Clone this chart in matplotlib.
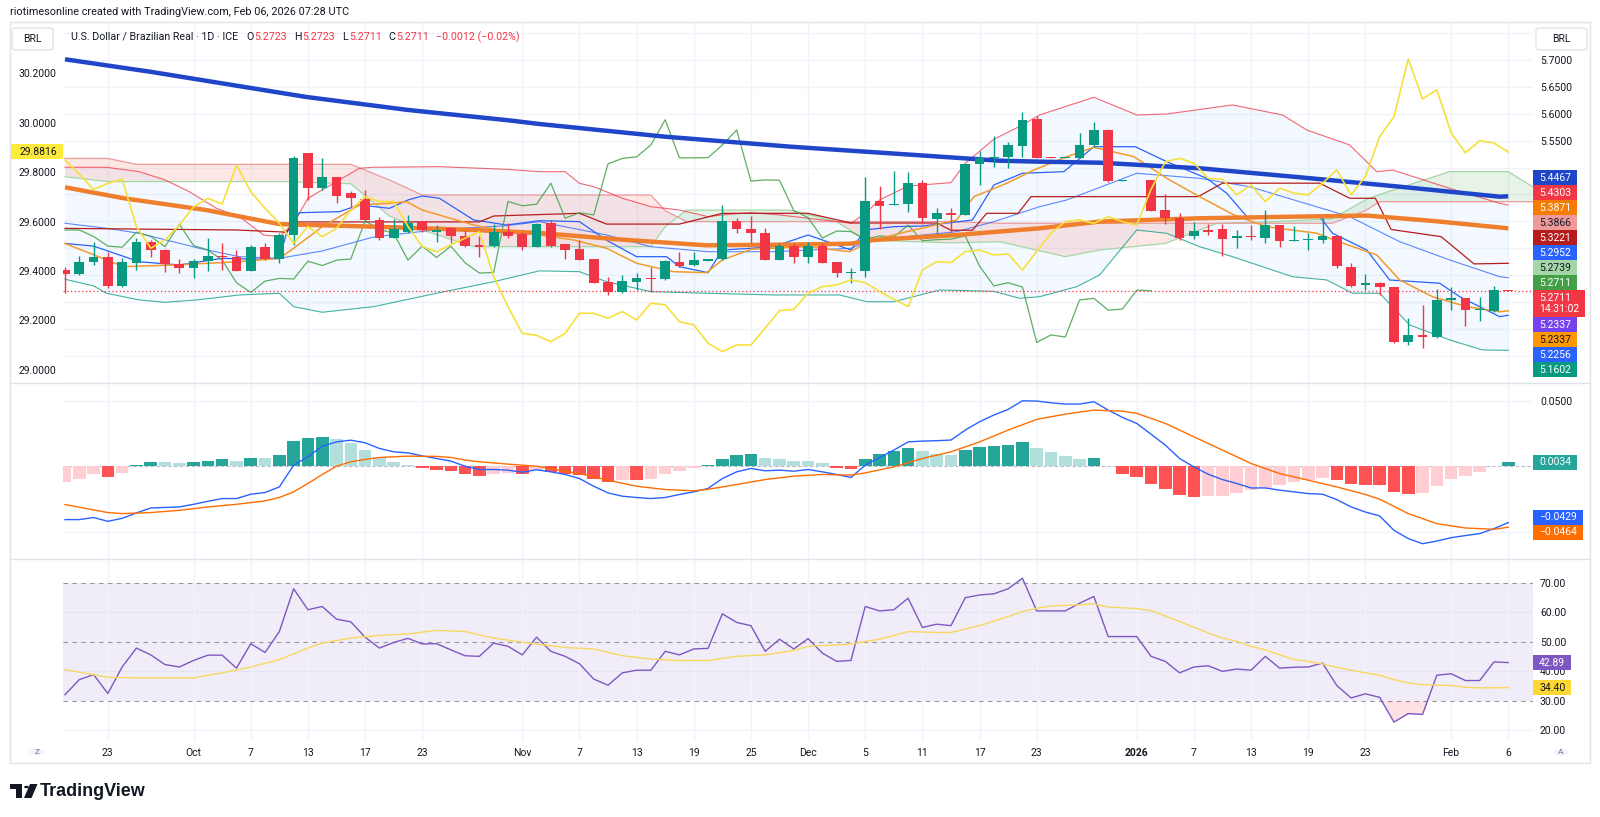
import numpy as np
import pandas as pd
import matplotlib
matplotlib.use("Agg")
import matplotlib.pyplot as plt
from matplotlib.patches import FancyBboxPatch, Rectangle, Circle, Polygon

plt.rcParams['font.family'] = ['Roboto', 'DejaVu Sans']

# ---------------- data (USD/BRL 1D, ICE) ----------------
dates = pd.bdate_range("2025-09-18", "2026-02-06")

opens = [5.310, 5.302, 5.325, 5.333, 5.279, 5.323, 5.362, 5.347, 5.320, 5.314,
         5.327, 5.336, 5.334, 5.308, 5.353, 5.331, 5.375, 5.528, 5.462, 5.482,
         5.452, 5.442, 5.403, 5.370, 5.380, 5.401, 5.380, 5.388, 5.372, 5.356,
         5.354, 5.380, 5.376, 5.353, 5.397, 5.358, 5.349, 5.330, 5.288, 5.268,
         5.288, 5.295, 5.293, 5.325, 5.319, 5.327, 5.330, 5.401, 5.385, 5.379,
         5.328, 5.354, 5.333, 5.354, 5.324, 5.304, 5.307, 5.437, 5.431, 5.432,
         5.471, 5.404, 5.416, 5.412, 5.507, 5.517, 5.520, 5.540, 5.590, 5.519,
         5.518, 5.517, 5.542, 5.570, 5.475, 5.476, 5.476, 5.421, 5.406, 5.372,
         5.384, 5.386, 5.370, 5.373, 5.370, 5.393, 5.364, 5.365, 5.365, 5.373,
         5.316, 5.281, 5.286, 5.278, 5.175, 5.189, 5.186, 5.253, 5.257, 5.235,
         5.234, 5.2723]
highs = [5.316, 5.336, 5.362, 5.344, 5.332, 5.369, 5.365, 5.348, 5.331, 5.331,
         5.370, 5.359, 5.347, 5.356, 5.360, 5.378, 5.522, 5.528, 5.517, 5.483,
         5.457, 5.458, 5.408, 5.404, 5.412, 5.401, 5.393, 5.390, 5.384, 5.372,
         5.395, 5.397, 5.381, 5.397, 5.403, 5.358, 5.365, 5.330, 5.297, 5.300,
         5.304, 5.316, 5.328, 5.344, 5.344, 5.330, 5.431, 5.406, 5.410, 5.387,
         5.359, 5.359, 5.362, 5.360, 5.325, 5.313, 5.482, 5.466, 5.494, 5.492,
         5.476, 5.424, 5.424, 5.507, 5.530, 5.559, 5.548, 5.604, 5.595, 5.520,
         5.519, 5.565, 5.585, 5.571, 5.477, 5.477, 5.477, 5.451, 5.415, 5.398,
         5.395, 5.395, 5.384, 5.393, 5.421, 5.394, 5.392, 5.378, 5.406, 5.374,
         5.322, 5.302, 5.287, 5.278, 5.220, 5.245, 5.274, 5.278, 5.258, 5.260,
         5.280, 5.2723]
lows = [5.267, 5.300, 5.319, 5.277, 5.278, 5.310, 5.334, 5.305, 5.304, 5.294,
        5.307, 5.310, 5.308, 5.308, 5.329, 5.323, 5.356, 5.440, 5.458, 5.434,
        5.421, 5.401, 5.365, 5.369, 5.378, 5.380, 5.362, 5.359, 5.353, 5.334,
        5.353, 5.370, 5.346, 5.352, 5.353, 5.330, 5.328, 5.286, 5.263, 5.266,
        5.273, 5.269, 5.291, 5.316, 5.318, 5.326, 5.329, 5.379, 5.359, 5.328,
        5.328, 5.322, 5.323, 5.323, 5.297, 5.286, 5.296, 5.385, 5.431, 5.418,
        5.395, 5.379, 5.381, 5.411, 5.468, 5.502, 5.499, 5.520, 5.517, 5.517,
        5.517, 5.517, 5.539, 5.474, 5.475, 5.476, 5.419, 5.395, 5.365, 5.367,
        5.375, 5.336, 5.350, 5.365, 5.359, 5.353, 5.363, 5.346, 5.360, 5.313,
        5.278, 5.273, 5.263, 5.174, 5.170, 5.164, 5.183, 5.235, 5.206, 5.215,
        5.232, 5.2711]
closes = [5.302, 5.324, 5.333, 5.279, 5.324, 5.362, 5.347, 5.320, 5.314, 5.327,
          5.336, 5.334, 5.308, 5.353, 5.330, 5.375, 5.517, 5.462, 5.482, 5.447,
          5.443, 5.403, 5.369, 5.386, 5.397, 5.384, 5.384, 5.372, 5.354, 5.352,
          5.380, 5.372, 5.353, 5.395, 5.355, 5.347, 5.328, 5.286, 5.268, 5.289,
          5.294, 5.293, 5.326, 5.318, 5.328, 5.330, 5.401, 5.385, 5.378, 5.328,
          5.354, 5.333, 5.354, 5.323, 5.304, 5.305, 5.437, 5.429, 5.432, 5.471,
          5.406, 5.416, 5.412, 5.507, 5.517, 5.520, 5.542, 5.589, 5.518, 5.518,
          5.5185, 5.542, 5.570, 5.475, 5.477, 5.4765, 5.420, 5.407, 5.369, 5.382,
          5.381, 5.367, 5.373, 5.371, 5.393, 5.364, 5.366, 5.367, 5.373, 5.317,
          5.280, 5.286, 5.278, 5.175, 5.189, 5.185, 5.254, 5.257, 5.235, 5.237,
          5.2723, 5.2711]

# second symbol on the left scale (yellow line)
yellow = [29.849, 29.792, 29.73, 29.755, 29.771, 29.580, 29.492, 29.526, 29.586, 29.660,
          29.694, 29.671, 29.829, 29.721, 29.654, 29.593, 29.512, 29.580, 29.539, 29.573,
          29.647, 29.701, 29.681, 29.681, 29.580, 29.499, 29.478, 29.506, 29.533, 29.559,
          29.377, 29.256, 29.148, 29.140, 29.114, 29.148, 29.229, 29.229, 29.209, 29.236,
          29.202, 29.270, 29.263, 29.195, 29.182, 29.108, 29.074, 29.101, 29.101, 29.169,
          29.240, 29.245, 29.310, 29.337, 29.344, 29.364, 29.353, 29.317, 29.286, 29.256,
          29.404, 29.438, 29.434, 29.478, 29.485, 29.465, 29.469, 29.404, 29.480, 29.553,
          29.600, 29.607, 29.593, 29.620, 29.600, 29.586, 29.730, 29.842, 29.856, 29.836,
          29.775, 29.771, 29.708, 29.748, 29.681, 29.735, 29.715, 29.708, 29.755, 29.809,
          29.708, 29.782, 29.944, 30.024, 30.258, 30.096, 30.133, 29.959, 29.878, 29.927,
          29.918, 29.8816]

# slow moving average (thick blue)
ma_slow_x = [0, 6.0, 16.9, 24.0, 31.1, 33.2, 42.0, 50.8, 59.5, 65.4, 68.2, 72.4, 79.4, 86.4, 93.4, 100.4, 101]
ma_slow_y = [5.7013, 5.678, 5.6312, 5.6071, 5.5877, 5.581, 5.5574, 5.5388, 5.5234, 5.5128, 5.511, 5.5091,
             5.4987, 5.482, 5.4645, 5.4459, 5.4467]
# medium moving average (thick orange)
ma_mid_x = [0, 4.1, 9.9, 15.0, 21.6, 28.6, 33.2, 39.0, 44.9, 50.7, 55.0, 56.6, 62.4, 68.2, 72.4, 79.4, 86.4, 91.1, 95.7, 101]
ma_mid_y = [5.4634, 5.443, 5.421, 5.395, 5.3902, 5.384, 5.3785, 5.366, 5.3555, 5.3568, 5.3586, 5.3654, 5.3747,
            5.3871, 5.3996, 5.4058, 5.4089, 5.4108, 5.4009, 5.3871]
# fast average (thin orange)
ma_fast_x = [0, 4.1, 7.6, 12.2, 15, 16, 18, 20.6, 22.7, 23.9, 25, 28.6, 30.9, 33.2, 35.6, 37.9, 40, 42.6, 44.9,
             46, 48, 51.9, 54.9, 56.6, 58.9, 62.4, 63.6, 65.9, 67.8, 70.1, 72, 74.8, 77.1, 79.4, 81.8, 84.1,
             87.6, 88.8, 91.8, 93.4, 95.7, 98.1, 100.4, 101]
ma_fast_y = [5.359, 5.3158, 5.319, 5.3251, 5.3314, 5.35, 5.39, 5.4305, 5.4336, 5.4366, 5.421, 5.3933, 5.3809,
             5.3747, 5.3654, 5.35, 5.3221, 5.3065, 5.3047, 5.3283, 5.3481, 5.353, 5.3437, 5.3654, 5.3809,
             5.4026, 5.4459, 5.4708, 5.4955, 5.5203, 5.5377, 5.5203, 5.48, 5.4459, 5.412, 5.39, 5.378,
             5.3654, 5.3375, 5.2911, 5.26, 5.2415, 5.232, 5.2337]

# Bollinger bands
bb_up_x = [0, 2.9, 5.2, 7, 8.7, 10.6, 12.2, 13.9, 15, 16, 17, 18, 19.2, 20.6, 21.6, 26.2, 30.9, 33.2, 35, 36,
           37, 39, 41, 43, 45, 46, 48, 50, 52, 55, 56, 57, 59, 62, 63, 65, 67, 68.2, 72, 75, 77.1, 81.7, 85.2,
           86.9, 89.9, 91.8, 92.9, 96.9, 100.4, 101]
bb_up_y = [5.5006, 5.5006, 5.4924, 5.477, 5.4552, 5.4243, 5.4088, 5.3747, 5.3716, 5.3965, 5.443, 5.4584,
           5.477, 5.4987, 5.5006, 5.5017, 5.4968, 5.4924, 5.4924, 5.4708, 5.4645, 5.443, 5.4273, 5.4212,
           5.4088, 5.412, 5.4162, 5.412, 5.4058, 5.3965, 5.415, 5.4398, 5.4658, 5.472, 5.508, 5.5526,
           5.5792, 5.5978, 5.6307, 5.5978, 5.5996, 5.6164, 5.5978, 5.5699, 5.542, 5.4924, 5.4955, 5.4615,
           5.4336, 5.4303]
bb_lo_x = [0, 2, 2.9, 5.2, 7, 9.2, 12.2, 15, 16, 18, 21.6, 26.2, 30, 33.2, 36, 37.9, 41, 45, 49.6, 54.2,
           56.1, 58, 61.2, 65, 66.8, 68.2, 70.8, 72.4, 75, 77.1, 79.4, 81.7, 85.9, 88.3, 90.1, 92, 94.1,
           96.9, 99.2, 101]
bb_lo_y = [5.2924, 5.28, 5.2664, 5.2539, 5.2496, 5.2539, 5.2632, 5.2664, 5.2415, 5.2311, 5.2415, 5.2675,
           5.2879, 5.308, 5.3065, 5.2879, 5.2694, 5.2664, 5.2632, 5.2632, 5.2507, 5.2507, 5.2725, 5.27,
           5.257, 5.26, 5.2786, 5.3004, 5.384, 5.3778, 5.353, 5.3344, 5.2972, 5.2911, 5.2664, 5.2664,
           5.2074, 5.1796, 5.161, 5.1602]
bb_mid_x = [0, 2.9, 5.2, 9.4, 12.2, 15, 18, 21.6, 26.2, 30.9, 33.2, 37.9, 41, 45, 49.6, 55, 56.5, 62.4, 65,
            68.2, 70.1, 75, 79.4, 82.9, 86.4, 89.9, 93.4, 96.9, 100.4, 101]
bb_mid_y = [5.3965, 5.3872, 5.3779, 5.35, 5.3344, 5.3314, 5.345, 5.371, 5.385, 5.392, 5.3995, 5.3747, 5.353,
            5.3437, 5.3437, 5.35, 5.3654, 5.3809, 5.3995, 5.4273, 5.4398, 5.4894, 5.48, 5.4645, 5.4366,
            5.4088, 5.3623, 5.3283, 5.2972, 5.2952]

# Ichimoku
tenkan_x = [0, 2, 5.2, 8, 11, 13.2, 15, 15.5, 16.4, 19.2, 20.6, 22.7, 24, 25, 26.2, 28.6, 30.9, 33.2, 36,
            37.9, 40, 42.1, 43, 45, 46, 48, 49.6, 52, 53.7, 55, 56, 58, 60, 63.5, 65, 67, 69.9, 72, 74.9,
            77.1, 79.9, 81.3, 82.7, 87.8, 88.7, 91.1, 92.7, 96.2, 97.6, 100.4, 101]
tenkan_y = [5.359, 5.354, 5.325, 5.319, 5.3314, 5.3296, 5.331, 5.378, 5.4162, 5.418, 5.4305, 5.4243, 5.4398,
            5.4472, 5.443, 5.4026, 5.3933, 5.4013, 5.3995, 5.365, 5.3344, 5.3344, 5.3158, 5.3047, 5.3468,
            5.35, 5.353, 5.3747, 5.359, 5.3468, 5.384, 5.3902, 5.3914, 5.4026, 5.4677, 5.4894, 5.4924,
            5.5388, 5.5388, 5.511, 5.48, 5.4522, 5.4088, 5.4088, 5.378, 5.3468, 5.2911, 5.285, 5.26,
            5.2229, 5.2256]
kijun_x = [0, 12, 15.5, 16, 29, 30, 36, 37.9, 43, 46, 52, 55, 61, 62, 63.5, 64.5, 66.7, 67.6, 79.3, 81,
           87.8, 89.9, 91.7, 92.8, 96.3, 98.6, 101]
kijun_y = [5.387, 5.384, 5.38, 5.399, 5.399, 5.41, 5.415, 5.395, 5.395, 5.415, 5.415, 5.397, 5.397, 5.3835,
           5.3835, 5.415, 5.415, 5.446, 5.446, 5.471, 5.471, 5.443, 5.443, 5.385, 5.3716, 5.321, 5.3221]
cloud_x = [0, 3, 5, 15, 20, 22.7, 25, 28.6, 33, 41, 42, 43.5, 50.7, 54, 56, 62, 65.4, 70, 72.4, 77, 80.6,
           85, 88.7, 91, 92, 96.9, 101, 102.7]
span_a = [5.483, 5.474, 5.474, 5.474, 5.47, 5.41, 5.384, 5.353, 5.353, 5.353, 5.39, 5.421, 5.421, 5.3995,
          5.3654, 5.36, 5.3623, 5.3344, 5.3468, 5.359, 5.3965, 5.40, 5.405, 5.44, 5.45, 5.4925, 5.4925, 5.4645]
span_b = [5.517, 5.517, 5.506, 5.506, 5.506, 5.477, 5.449, 5.449, 5.449, 5.449, 5.42, 5.3995, 5.3995, 5.3995,
          5.3995, 5.3995, 5.3965, 5.3965, 5.3965, 5.3965, 5.3965, 5.3965, 5.3965, 5.42, 5.4366, 5.4366,
          5.4366, 5.4366]
lag_shift = 25

# last-value labels
price_tags = [5.4467, 5.4303, 5.3871, 5.3866, 5.3221, 5.2952, 5.2739, 5.2711, 5.2711, 5.2337, 5.2337, 5.2256, 5.1602]
left_tag = 29.8816
countdown = "14:31:02"

# MACD
macd_hist = [-0.0118, -0.0092, -0.0061, -0.008, -0.0049, 0.001, 0.0031, 0.0031, 0.0023, 0.0036,
             0.0043, 0.0056, 0.0043, 0.0064, 0.0064, 0.0084, 0.0194, 0.0214, 0.0227, 0.0207,
             0.0181, 0.0125, 0.0069, 0.0031, 0.0015, -0.0013, -0.0026, -0.0038, -0.0059, -0.0072,
             -0.0059, -0.0049, -0.0061, -0.003, -0.0041, -0.0054, -0.0066, -0.0095, -0.0118, -0.0105,
             -0.0105, -0.0095, -0.0056, -0.0038, -0.001, 0.001, 0.0061, 0.0089, 0.0099, 0.0064,
             0.0056, 0.0041, 0.0041, 0.0023, -0.0013, -0.0023, 0.0056, 0.0094, 0.012, 0.0143,
             0.012, 0.0099, 0.0084, 0.0125, 0.015, 0.0158, 0.0163, 0.0186, 0.0145, 0.0112,
             0.0077, 0.006, 0.0064, 0.0, -0.0054, -0.008, -0.0133, -0.0174, -0.022, -0.0233,
             -0.0227, -0.0222, -0.0202, -0.0181, -0.0161, -0.0138, -0.0122, -0.0105, -0.0087, -0.0105,
             -0.0133, -0.0141, -0.0141, -0.0194, -0.021, -0.0202, -0.0148, -0.0092, -0.0072, -0.0043,
             0.0003, 0.0034]
macd_line = [-0.0406, -0.0406, -0.039, -0.0419, -0.0396, -0.0355, -0.0317, -0.0313, -0.0309, -0.0289,
             -0.0266, -0.0245, -0.0245, -0.0212, -0.0199, -0.0156, 0.001, 0.0074, 0.0155, 0.0188,
             0.0201, 0.0181, 0.0138, 0.0112, 0.0104, 0.0081, 0.0061, 0.0041, 0.0002, -0.0023,
             -0.0023, -0.0028, -0.0044, -0.0025, -0.0041, -0.0061, -0.0092, -0.0151, -0.0202, -0.0227,
             -0.0237, -0.0245, -0.0237, -0.0214, -0.0194, -0.0168, -0.0092, -0.0041, -0.0015, -0.0033,
             -0.0028, -0.0036, -0.0023, -0.0041, -0.0061, -0.0084, 0.001, 0.0069, 0.0125, 0.0188,
             0.0194, 0.0197, 0.0202, 0.0278, 0.0342, 0.0393, 0.0436, 0.0502, 0.05, 0.0487,
             0.0477, 0.0477, 0.0495, 0.0431, 0.0375, 0.0329, 0.0247, 0.0163, 0.0061, -0.0003,
             -0.0059, -0.01, -0.013, -0.0164, -0.0164, -0.0181, -0.0194, -0.0207, -0.0212, -0.0253,
             -0.0309, -0.0348, -0.0378, -0.0488, -0.0551, -0.059, -0.057, -0.0544, -0.0528, -0.0513,
             -0.0475, -0.0429]
signal_x = [0, 3, 4, 6, 8, 10, 12, 14, 15, 16, 17, 18, 19, 20, 21, 22, 24, 26, 27, 28, 29, 31, 33, 36, 38,
            40, 42, 44, 45, 47, 49, 51, 53, 55, 56, 58, 60, 62, 64, 66, 68, 70, 72, 74, 75, 77, 79, 81, 83,
            85, 87, 89, 91, 92, 94, 96, 98, 100, 101]
signal_y = [-0.0291, -0.0352, -0.036, -0.0352, -0.0335, -0.0309, -0.0289, -0.0263, -0.0237, -0.0194, -0.013,
            -0.0061, 0.0002, 0.0036, 0.0054, 0.0069, 0.0079, 0.0077, 0.0069, 0.0049, 0.0036, 0.0018, 0.0002,
            -0.0054, -0.0105, -0.0151, -0.0176, -0.0186, -0.0174, -0.0138, -0.01, -0.0074, -0.0061, -0.0066,
            -0.0049, -0.0003, 0.0061, 0.0112, 0.0188, 0.0278, 0.036, 0.04, 0.0431, 0.0423, 0.0406, 0.0329,
            0.0227, 0.0125, 0.0023, -0.0054, -0.0105, -0.0156, -0.0214, -0.025, -0.036, -0.0437, -0.047,
            -0.048, -0.0464]

# RSI
rsi = [32.0, 37.1, 38.8, 32.4, 41.4, 47.8, 45.5, 42.2, 41.4, 43.6,
       45.4, 45.4, 41.0, 49.3, 46.3, 53.4, 67.9, 60.8, 61.9, 57.6,
       56.7, 51.5, 47.8, 49.7, 51.1, 49.2, 49.3, 47.2, 45.2, 45.0,
       49.5, 48.4, 45.5, 51.5, 46.7, 45.0, 42.5, 37.3, 35.2, 39.4,
       40.3, 40.3, 46.7, 45.5, 47.5, 47.7, 59.4, 56.5, 55.4, 46.7,
       50.8, 47.5, 51.0, 46.1, 43.3, 43.6, 61.9, 60.4, 60.8, 64.7,
       54.8, 55.9, 55.4, 64.9, 65.8, 66.2, 67.9, 71.5, 60.4, 60.4,
       60.4, 63.0, 65.3, 51.7, 51.7, 51.7, 45.0, 43.3, 39.4, 41.4,
       41.8, 39.9, 40.7, 40.3, 45.0, 41.0, 41.3, 41.4, 42.7, 35.1,
       30.9, 32.3, 31.1, 22.7, 25.6, 25.3, 38.6, 39.1, 36.8, 36.8,
       43.1, 42.89]
rsi_ma_x = [0, 3, 5, 9, 11, 13, 15, 17, 18, 20, 22, 24, 26, 28, 30, 32, 33, 35, 37, 39, 41, 43, 45, 47, 49,
            51, 52, 54, 55, 57, 59, 61, 62, 64, 66, 67, 68, 69, 71, 72, 73, 75, 76, 78, 80, 81, 82, 83, 84,
            85, 86, 87, 88, 89, 90, 91, 92, 93, 94, 95, 96, 97, 98, 99, 101]
rsi_ma_y = [40.5, 37.9, 37.7, 37.7, 39.4, 41.4, 43.9, 47.8, 49.5, 51.2, 52.1, 52.6, 53.8, 53.4, 51.2, 49.8,
            49.2, 48.0, 47.5, 45.2, 44.1, 43.6, 43.6, 45.0, 45.5, 47.0, 48.4, 48.9, 49.2, 50.8, 53.4, 53.1,
            53.1, 55.4, 58.5, 60.2, 61.3, 62.1, 62.5, 62.8, 61.7, 61.2, 60.5, 56.8, 52.9, 51.2, 50.1, 48.4,
            47.2, 45.5, 43.9, 43.3, 42.4, 41.3, 40.3, 39.4, 38.6, 37.1, 36.0, 35.4, 35.2, 35.1, 34.5, 34.3,
            34.4]

tick_dates = ["2025-09-23", "2025-10-01", "2025-10-07", "2025-10-13", "2025-10-17", "2025-10-23",
              "2025-11-03", "2025-11-07", "2025-11-13", "2025-11-19", "2025-11-25", "2025-12-01",
              "2025-12-05", "2025-12-11", "2025-12-17", "2025-12-23", "2026-01-01", "2026-01-07",
              "2026-01-13", "2026-01-19", "2026-01-23", "2026-02-02", "2026-02-06"]
tick_labels = ["23", "Oct", "7", "13", "17", "23", "Nov", "7", "13", "19", "25", "Dec", "5", "11", "17",
               "23", "2026", "7", "13", "19", "23", "Feb", "6"]

header = "riotimesonline created with TradingView.com, Feb 06, 2026 07:28 UTC"
title = "U.S. Dollar / Brazilian Real · 1D · ICE"

# ---------------- figure ----------------
W, H = 1600, 817
fig = plt.figure(figsize=(W / 100, H / 100), dpi=100)
TXT = '#131722'
GRID = '#f0f3fa'
UP, DN = '#089981', '#f23645'


def fx(x):
    return x / W


def fy(y):
    return 1 - y / H


PL, PR = 63, 1533
XL, XR = -0.14, 102.73


def pane(top, bottom):
    a = fig.add_axes([fx(PL), fy(bottom), (PR - PL) / W, (bottom - top) / H])
    for s in a.spines.values():
        s.set_visible(False)
    a.set_xlim(XL, XR)
    return a


ax = pane(22, 383)
axl = ax.twinx()          # left scale for the yellow series (twinx moves ax ticks, so fix after)
axm = pane(383, 559)
axr = pane(559, 741)

n = len(closes)
x = np.arange(n)
o, hi, lo, c = (np.array(v) for v in (opens, highs, lows, closes))
tick_idx = [dates.get_loc(pd.Timestamp(d)) for d in tick_dates]

for a in (ax, axm, axr):
    a.set_xticks(tick_idx)
    a.grid(axis='x', color=GRID, lw=1)
    a.tick_params(axis='x', length=0)
    a.set_axisbelow(True)
ax.set_xticklabels([])
axm.set_xticklabels([])
axr.set_xticklabels(tick_labels)
axr.tick_params(axis='x', labelsize=7.5, colors=TXT, pad=5)
axr.get_xticklabels()[tick_labels.index("2026")].set_fontweight('bold')

# ---- main pane ----
ax.set_ylim(5.0996, 5.7706)
main_ticks = np.round(np.arange(5.10, 5.751, 0.05), 2)
ax.set_yticks(main_ticks)
ax.yaxis.set_label_position('right')
ax.yaxis.tick_right()
ax.tick_params(axis='y', which='both', left=False, labelleft=False, right=False, labelright=True,
               length=0, pad=5, labelsize=7.5, colors=TXT)
ax.grid(axis='y', color=GRID, lw=1)

# bollinger fill + lines
ax.fill(np.r_[bb_up_x, bb_lo_x[::-1]], np.r_[bb_up_y, bb_lo_y[::-1]], color='#2196f3', alpha=0.05, lw=0, zorder=1)
ax.plot(bb_up_x, bb_up_y, color='#f23645', lw=0.8, alpha=0.75, zorder=3)
ax.plot(bb_lo_x, bb_lo_y, color='#089981', lw=0.8, alpha=0.75, zorder=3)
ax.plot(bb_mid_x, bb_mid_y, color='#2962ff', lw=0.8, alpha=0.75, zorder=3)

# ichimoku cloud
cx, ca, cb = np.array(cloud_x), np.array(span_a), np.array(span_b)
ax.fill_between(cx, ca, cb, where=ca >= cb, interpolate=True, color='#43a047', alpha=0.12, lw=0, zorder=1)
ax.fill_between(cx, ca, cb, where=ca < cb, interpolate=True, color='#f44336', alpha=0.12, lw=0, zorder=1)
ax.plot(cx, ca, color='#a5d6a7', lw=0.9, zorder=2)
ax.plot(cx, cb, color='#ef9a9a', lw=0.9, zorder=2)
ax.plot(tenkan_x, tenkan_y, color='#2962ff', lw=0.9, zorder=3)
ax.plot(kijun_x, kijun_y, color='#b71c1c', lw=0.9, zorder=3)
ax.plot(x[:n - lag_shift], c[lag_shift:], color='#43a047', lw=0.9, alpha=0.85, zorder=3)

ax.plot(ma_fast_x, ma_fast_y, color='#f39a2b', lw=1.1, zorder=4)
ax.plot(ma_mid_x, ma_mid_y, color='#ef7f2d', lw=3.2, zorder=4, solid_capstyle='butt')
ax.plot(ma_slow_x, ma_slow_y, color='#1f45c8', lw=3.2, zorder=4, solid_capstyle='butt')

# candles
col = np.where(c >= o, UP, DN)
ax.vlines(x, lo, hi, colors=col, lw=1, zorder=6)
ax.bar(x, np.maximum(np.abs(c - o), 0.0012), bottom=np.minimum(o, c), width=0.68, color=col, lw=0, zorder=7)
ax.axhline(c[-1], color=DN, lw=0.9, ls=(0, (1, 2)), zorder=5)

for s in axl.spines.values():
    s.set_visible(False)
axl.set_ylim(28.947, 30.4075)
left_ticks = np.round(np.arange(29.0, 30.21, 0.2), 1)
axl.set_yticks(left_ticks)
axl.set_yticklabels([f"{v:.4f}" for v in left_ticks])
axl.yaxis.set_label_position('left')
axl.yaxis.tick_left()
axl.tick_params(axis='y', which='both', right=False, labelright=False, left=False, labelleft=True,
                length=0, pad=5, labelsize=7.5, colors=TXT)
axl.plot(x, yellow, color='#f7e03c', lw=1.2, zorder=5)
axl.set_xlim(XL, XR)

# ---- MACD pane ----
axm.set_ylim(-0.0707, 0.0638)
axm.set_yticks([-0.05, 0.0, 0.05])
axm.set_yticklabels(['', '0.0000', '0.0500'])
axm.yaxis.tick_right()
axm.tick_params(axis='y', length=0, pad=5, labelsize=7.5, colors=TXT)
axm.grid(axis='y', color=GRID, lw=1)
hist = np.array(macd_hist)
rising = np.r_[True, hist[1:] > hist[:-1]]
hcol = np.where(hist >= 0, np.where(rising, '#26a69a', '#b2dfdb'), np.where(rising, '#ffcdd2', '#ff5252'))
axm.bar(x, hist, width=0.88, color=hcol, lw=0, zorder=2)
axm.axhline(0, color='#787b86', lw=0.7, ls=(0, (3, 3)), alpha=0.5, zorder=1)
axm.plot(x, macd_line, color='#2962ff', lw=1.0, zorder=3)
axm.plot(signal_x, signal_y, color='#ff6d00', lw=1.0, zorder=3)

# ---- RSI pane ----
axr.set_ylim(16.3, 78)
axr.set_yticks([20, 30, 40, 50, 60, 70])
axr.set_yticklabels(['20.00', '30.00', '40.00', '50.00', '60.00', '70.00'])
axr.yaxis.tick_right()
axr.tick_params(axis='y', length=0, pad=5, labelsize=7.5, colors=TXT)
for v in (20, 40, 60):
    axr.axhline(v, color=GRID, lw=1, zorder=0)
axr.axhspan(30, 70, color='#7e57c2', alpha=0.1, lw=0, zorder=0)
for v in (30, 50, 70):
    axr.axhline(v, color='#9598a1', lw=0.8, ls=(0, (4, 4)), zorder=1)
r = np.array(rsi)
axr.fill_between(x, r, 30, where=r < 30, interpolate=True, color='#f23645', alpha=0.15, lw=0)
axr.fill_between(x, r, 70, where=r > 70, interpolate=True, color='#089981', alpha=0.15, lw=0)
axr.plot(x, rsi, color='#7e57c2', lw=1.0, zorder=3)
axr.plot(rsi_ma_x, rsi_ma_y, color='#f9d75e', lw=1.0, zorder=3)

# ---------------- value tags on the scales ----------------
rend = fig.canvas.get_renderer()


def stack(axis, values, heights):
    nat = [H - axis.transData.transform((0, v))[1] for v in values]
    order = sorted(range(len(values)), key=lambda k: nat[k])
    groups = [[k] for k in order]

    def lay(g):
        tot = sum(heights[k] for k in g)
        top = np.mean([nat[k] for k in g]) - tot / 2
        return top, top + tot

    merged = True
    while merged:
        merged = False
        for j in range(len(groups) - 1):
            if lay(groups[j])[1] > lay(groups[j + 1])[0] + 0.01:
                groups[j] = groups[j] + groups[j + 1]
                del groups[j + 1]
                merged = True
                break
    centers = {}
    for g in groups:
        top = lay(g)[0]
        for k in g:
            centers[k] = top + heights[k] / 2
            top += heights[k]
    return [centers[k] for k in range(len(values))]


def tag(xl, yc, txt, bg, fg, h=15, align='left', xr=None):
    if align == 'left':
        t = fig.text(fx(xl + 6), fy(yc), txt, ha='left', va='center', fontsize=7.5, color=fg, zorder=11,
                     linespacing=1.15)
        bb = t.get_window_extent(renderer=rend)
        w = bb.width + 12
    else:
        fig.text(fx(xr - 6), fy(yc), txt, ha='right', va='center', fontsize=7.5, color=fg, zorder=11)
        w = xr - xl
    fig.add_artist(FancyBboxPatch((fx(xl), fy(yc + h / 2)), w / W, h / H, boxstyle='square,pad=0',
                                  transform=fig.transFigure, fc=bg, ec='none', zorder=10))


def fmt(v, d=4):
    return f"{v:.{d}f}".replace('-', '\u2212')


tag_bg = ['#1f45c8', '#f23645', '#f57c00', '#ef9a9a', '#b71c1c', '#2962ff', '#a5d6a7', '#43a047',
          '#f23645', '#7443ee', '#ff9800', '#2962ff', '#089981']
tag_fg = ['white', 'white', 'white', TXT, 'white', 'white', TXT, 'white', 'white', 'white', TXT, 'white', 'white']
tag_txt = [fmt(v) for v in price_tags]
tag_txt[8] = tag_txt[8] + "\n" + countdown
tag_h = [15] * len(price_tags)
tag_h[8] = 27
centers = stack(ax, price_tags, tag_h)
for yc, t, b, f, hh in zip(centers, tag_txt, tag_bg, tag_fg, tag_h):
    tag(PR, yc, t, b, f, h=hh)

# right-scale tick labels hidden where the tag column covers them or at the pane edge
stack_top = min(cy - hh / 2 for cy, hh in zip(centers, tag_h)) - 6
stack_bot = max(cy + hh / 2 for cy, hh in zip(centers, tag_h)) + 6
main_lbl = []
for v in main_ticks:
    py = H - ax.transData.transform((0, v))[1]
    hidden = (stack_top <= py <= stack_bot) or py > 383 - 8 or py < 22 + 8
    main_lbl.append('' if hidden else f"{v:.4f}")
ax.set_yticklabels(main_lbl)

macd_tags = [hist[-1], macd_line[-1], signal_y[-1]]
for yc, v, b in zip(stack(axm, macd_tags, [15, 15, 15]), macd_tags, ['#26a69a', '#2962ff', '#ff6d00']):
    tag(PR, yc, fmt(v), b, 'white')

rsi_tags = [rsi[-1], rsi_ma_y[-1]]
for yc, v, b, f in zip(stack(axr, rsi_tags, [15, 15]), rsi_tags, ['#7e57c2', '#fdd835'], ['white', TXT]):
    tag(PR, yc, fmt(v, 2), b, f)

yl = H - axl.transData.transform((0, left_tag))[1]
tag(10, yl, fmt(left_tag), '#fdeb3b', TXT, align='right', xr=PL)

# ---------------- frame, header, logo ----------------
frame = dict(color='#e0e3eb', lw=1, transform=fig.transFigure, zorder=12)
fig.add_artist(plt.Line2D([fx(10), fx(1590), fx(1590), fx(10), fx(10)],
                          [fy(22), fy(22), fy(763), fy(763), fy(22)], **frame))
for yy in (383, 559):
    fig.add_artist(plt.Line2D([fx(10), fx(1590)], [fy(yy), fy(yy)], **frame))

fig.text(fx(10), fy(12), header, fontsize=7.8, color=TXT, va='center', ha='left')

for bx0, bx1 in ((12, 53), (1536, 1587)):
    fig.add_artist(FancyBboxPatch((fx(bx0), fy(50)), (bx1 - bx0) / W, 22 / H,
                                  boxstyle='round,pad=0,rounding_size=0.003', transform=fig.transFigure,
                                  fc='white', ec='#e0e3eb', lw=1, zorder=13))
    fig.text(fx((bx0 + bx1) / 2), fy(39), "BRL", fontsize=7.5, color=TXT, ha='center', va='center', zorder=14)

# legend line with OHLC
pieces = [(title, TXT, 7), ("O", TXT, 0), (fmt(opens[-1]), DN, 6), ("H", TXT, 0), (fmt(highs[-1]), DN, 6),
          ("L", TXT, 0), (fmt(lows[-1]), DN, 6), ("C", TXT, 0), (fmt(closes[-1]), DN, 6),
          (f"{fmt(closes[-1] - opens[-1])} ({fmt((closes[-1] - opens[-1]) / opens[-1] * 100, 2)}%)", DN, 0)]
xc = 71
for txt, colr, gap in pieces:
    t = fig.text(fx(xc), fy(37), txt, fontsize=7.7, color=colr, ha='left', va='center', zorder=14)
    xc += t.get_window_extent(renderer=rend).width + gap + 1

# small Z / A buttons
for cxp, letter in ((37, "Z"), (1561, "A")):
    fig.add_artist(Circle((fx(cxp), fy(752)), 7 / W, transform=fig.transFigure, fc=GRID, ec='none', zorder=13))
    fig.text(fx(cxp), fy(752), letter, fontsize=6, color='#787b86', ha='center', va='center', zorder=14)

# TradingView logo
logo = dict(transform=fig.transFigure, fc='#131722', ec='none', zorder=14)
fig.add_artist(Rectangle((fx(10), fy(789)), 12 / W, 5 / H, **logo))
fig.add_artist(Rectangle((fx(16), fy(798)), 6 / W, 14 / H, **logo))
fig.add_artist(Circle((fx(26.5), fy(787)), 2.4 / W, **logo))
fig.add_artist(Polygon([(fx(30), fy(784)), (fx(37.5), fy(784)), (fx(31.5), fy(798)), (fx(24), fy(798))], **logo))
fig.text(fx(40), fy(791), "TradingView", fontsize=13, fontweight='bold', color='#131722',
         family=['Liberation Sans', 'DejaVu Sans'], ha='left', va='center')

fig.savefig("out.png", dpi=100, facecolor='white')
